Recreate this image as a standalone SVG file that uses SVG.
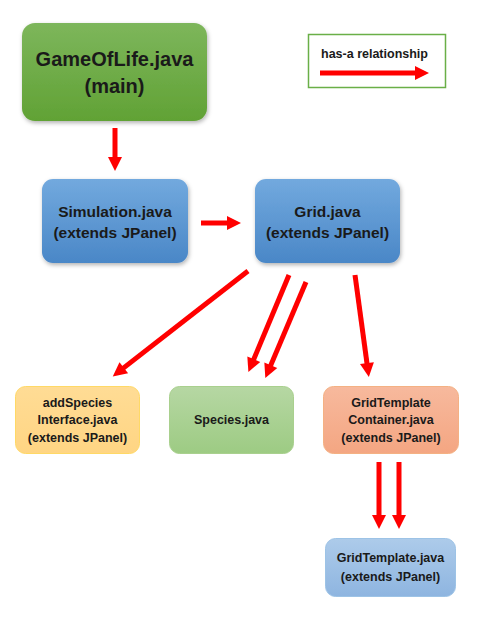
<svg xmlns="http://www.w3.org/2000/svg" width="488" height="642" viewBox="0 0 488 642">
<defs>
<linearGradient id="gGreen" x1="0" y1="0" x2="0" y2="1"><stop offset="0" stop-color="#7db65b"/><stop offset="1" stop-color="#61a235"/></linearGradient>
<linearGradient id="gBlue" x1="0" y1="0" x2="0" y2="1"><stop offset="0" stop-color="#72a9de"/><stop offset="1" stop-color="#4a87c7"/></linearGradient>
<linearGradient id="gYellow" x1="0" y1="0" x2="0" y2="1"><stop offset="0" stop-color="#ffdc95"/><stop offset="1" stop-color="#ffd583"/></linearGradient>
<linearGradient id="gLGreen" x1="0" y1="0" x2="0" y2="1"><stop offset="0" stop-color="#b6d7a3"/><stop offset="1" stop-color="#9dcb83"/></linearGradient>
<linearGradient id="gSalmon" x1="0" y1="0" x2="0" y2="1"><stop offset="0" stop-color="#f7b99d"/><stop offset="1" stop-color="#f4a682"/></linearGradient>
<linearGradient id="gLBlue" x1="0" y1="0" x2="0" y2="1"><stop offset="0" stop-color="#adcbea"/><stop offset="1" stop-color="#8eb5e0"/></linearGradient>
<filter id="shadow" x="-10%" y="-10%" width="130%" height="140%"><feDropShadow dx="1" dy="2" stdDeviation="2" flood-color="#000" flood-opacity="0.3"/></filter>
<marker id="head" markerUnits="userSpaceOnUse" markerWidth="16" markerHeight="16" refX="1" refY="0" viewBox="0 -8 16 16" orient="auto" overflow="visible"><path d="M0,-7 L14,0 L0,7 Z" fill="#ff0000"/></marker>
<style>
text{font-family:"Liberation Sans",Arial,sans-serif;font-weight:bold;fill:#1a1a1a;text-anchor:middle;dominant-baseline:central}
.big{font-size:20px}
.mid{font-size:15.5px}
.sm{font-size:12.5px}
.arr{stroke:#ff0000;stroke-width:5;fill:none;marker-end:url(#head)}
</style>
</defs>
<rect width="488" height="642" fill="#ffffff"/>
<g id="legend">
<rect x="308.5" y="34.5" width="137" height="53" fill="#ffffff" stroke="#6aaf47" stroke-width="1.5"/>
<text class="sm" x="374.5" y="54">has-a relationship</text>
<line class="arr" x1="320" y1="73" x2="416" y2="73"/>
</g>
<g id="gameoflife">
<rect x="22" y="23" width="185" height="98" rx="13" fill="url(#gGreen)" filter="url(#shadow)"/>
<text class="big" x="114.5" y="59">GameOfLife.java</text>
<text class="big" x="114.5" y="86">(main)</text>
</g>
<g id="simulation">
<rect x="42" y="179" width="146" height="84" rx="11" fill="url(#gBlue)" filter="url(#shadow)"/>
<text class="mid" x="115" y="211">Simulation.java</text>
<text class="mid" x="115" y="232">(extends JPanel)</text>
</g>
<g id="grid">
<rect x="255" y="179" width="145" height="84" rx="11" fill="url(#gBlue)" filter="url(#shadow)"/>
<text class="mid" x="327.5" y="211">Grid.java</text>
<text class="mid" x="327.5" y="232">(extends JPanel)</text>
</g>
<g id="addspecies">
<rect x="15.5" y="386.5" width="124" height="67" rx="10" fill="url(#gYellow)" stroke="#ffd966" stroke-width="1"/>
<text class="sm" x="77.5" y="403">addSpecies</text>
<text class="sm" x="77.5" y="420">Interface.java</text>
<text class="sm" x="77.5" y="438">(extends JPanel)</text>
</g>
<g id="species">
<rect x="169.5" y="386.5" width="124" height="67" rx="10" fill="url(#gLGreen)" stroke="#a9d08e" stroke-width="1"/>
<text class="sm" x="231.5" y="420">Species.java</text>
</g>
<g id="gridtemplatecontainer">
<rect x="323.5" y="386.5" width="135" height="67" rx="10" fill="url(#gSalmon)" stroke="#f4b183" stroke-width="1"/>
<text class="sm" x="391" y="403">GridTemplate</text>
<text class="sm" x="391" y="420">Container.java</text>
<text class="sm" x="391" y="438">(extends JPanel)</text>
</g>
<g id="gridtemplate">
<rect x="325.5" y="538.5" width="130" height="58" rx="10" fill="url(#gLBlue)" stroke="#9dc3e6" stroke-width="1"/>
<text class="sm" x="390.5" y="558">GridTemplate.java</text>
<text class="sm" x="390.5" y="577">(extends JPanel)</text>
</g>
<g id="connectors">
<line class="arr" x1="115" y1="128" x2="115" y2="158"/>
<line class="arr" x1="201" y1="223" x2="228" y2="223"/>
<line class="arr" x1="248" y1="271" x2="123" y2="368.4"/>
<line class="arr" x1="289" y1="275" x2="253.4" y2="360.1"/>
<line class="arr" x1="306" y1="282" x2="270.4" y2="366.1"/>
<line class="arr" x1="355" y1="275" x2="367.1" y2="364.1"/>
<line class="arr" x1="379" y1="462" x2="379" y2="516"/>
<line class="arr" x1="399" y1="462" x2="399" y2="516"/>
</g>
</svg>
